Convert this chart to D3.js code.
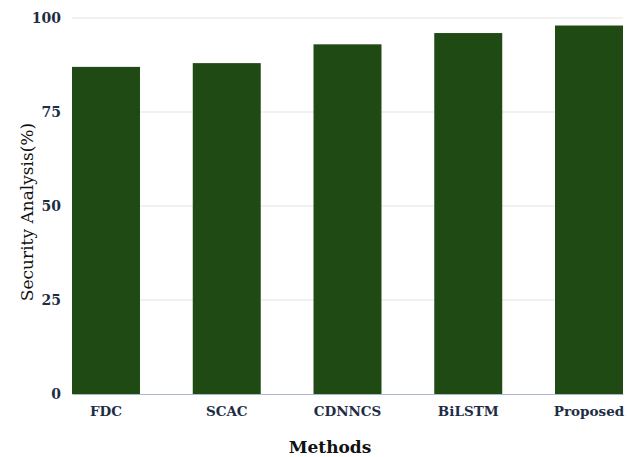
<!DOCTYPE html>
<html>
<head>
<meta charset="utf-8">
<script src="https://cdn.jsdelivr.net/npm/d3@7"></script>
<style>
  html, body { margin: 0; padding: 0; background: #fff; }
  svg { display: block; }
</style>
</head>
<body>
<svg id="chart" width="628" height="457"></svg>
<script>
// Security analysis per method
const methods = ["FDC", "SCAC", "CDNNCS", "BiLSTM", "Proposed"];
const security = [87, 88, 93, 96, 98];
const yTicks = [0, 25, 50, 75, 100];

const width = 628, height = 457;
const margin = { top: 18, right: 5, bottom: 63, left: 72 };
const serif = "'DejaVu Serif', serif";

const svg = d3.select("#chart");

const x = d3.scaleBand()
  .domain(methods)
  .range([margin.left, width - margin.right])
  .paddingInner(0.437)
  .paddingOuter(0);

const y = d3.scaleLinear()
  .domain([0, 100])
  .range([height - margin.bottom, margin.top]);

// horizontal grid lines
svg.append("g")
  .selectAll("line")
  .data(yTicks.filter(d => d > 0))
  .join("line")
  .attr("x1", margin.left)
  .attr("x2", width - margin.right)
  .attr("y1", d => y(d))
  .attr("y2", d => y(d))
  .attr("stroke", "#e3e3e3")
  .attr("stroke-width", 1.2);

// bars
svg.append("g")
  .selectAll("rect")
  .data(methods)
  .join("rect")
  .attr("x", d => x(d))
  .attr("width", x.bandwidth())
  .attr("y", (d, i) => y(security[i]))
  .attr("height", (d, i) => y(0) - y(security[i]))
  .attr("fill", "#204a14");

// y axis labels
const yAxis = svg.append("g")
  .attr("transform", `translate(${margin.left},0)`)
  .call(d3.axisLeft(y).tickValues(yTicks).tickSize(0).tickPadding(11));
yAxis.select(".domain").remove();
yAxis.selectAll("text")
  .attr("fill", "#1e2d45")
  .style("font-family", serif)
  .style("font-size", "14px")
  .style("font-weight", "bold");

// x axis
const xAxis = svg.append("g")
  .attr("transform", `translate(0,${y(0)})`)
  .call(d3.axisBottom(x).tickSize(0).tickPadding(12));
xAxis.select(".domain")
  .attr("stroke", "#a9b7cc")
  .attr("stroke-width", 1);
xAxis.selectAll("text")
  .attr("fill", "#1e2d45")
  .style("font-family", serif)
  .style("font-size", "13.5px")
  .style("font-weight", "bold");

// axis titles
svg.append("text")
  .attr("x", 330)
  .attr("y", 453)
  .attr("text-anchor", "middle")
  .attr("fill", "#111")
  .style("font-family", serif)
  .style("font-size", "17px")
  .style("font-weight", "bold")
  .text("Methods");

svg.append("text")
  .attr("transform", `translate(33,212) rotate(-90)`)
  .attr("text-anchor", "middle")
  .attr("fill", "#111")
  .style("font-family", serif)
  .style("font-size", "17px")
  .text("Security Analysis(%)");
</script>
</body>
</html>
